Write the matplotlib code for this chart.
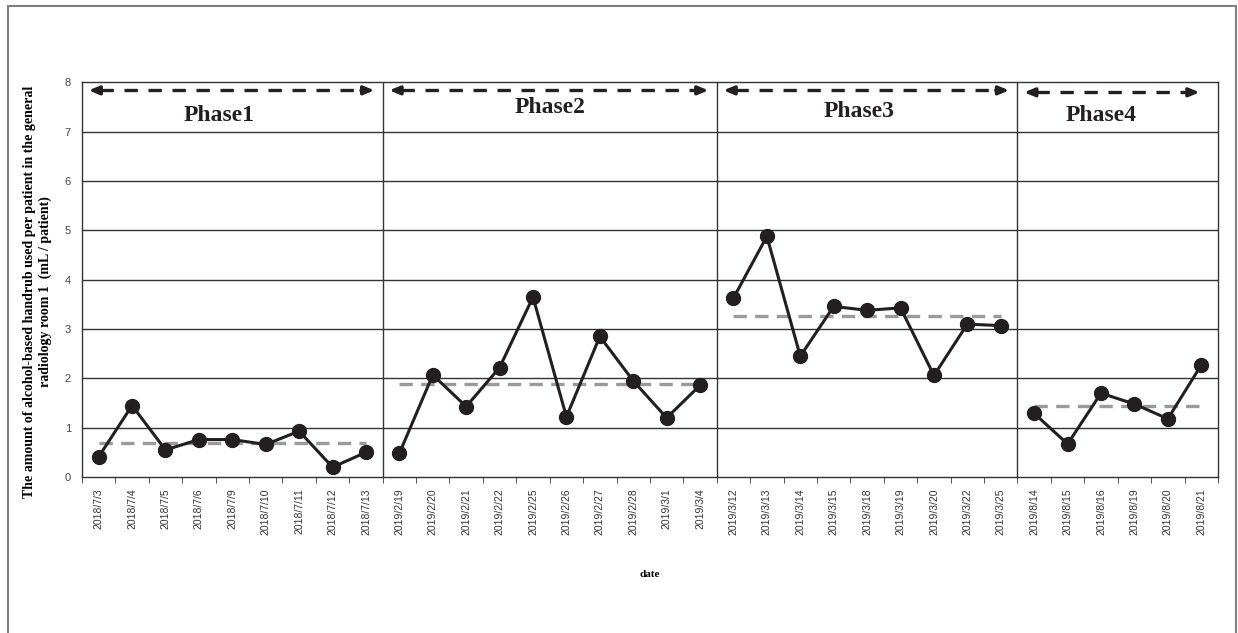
import matplotlib
matplotlib.use("Agg")
import matplotlib.pyplot as plt
import numpy as np
from matplotlib.patches import Rectangle

# dates per phase
phase1_dates = ["2018/7/3", "2018/7/4", "2018/7/5", "2018/7/6", "2018/7/9",
                "2018/7/10", "2018/7/11", "2018/7/12", "2018/7/13"]
phase2_dates = ["2019/2/19", "2019/2/20", "2019/2/21", "2019/2/22", "2019/2/25",
                "2019/2/26", "2019/2/27", "2019/2/28", "2019/3/1", "2019/3/4"]
phase3_dates = ["2019/3/12", "2019/3/13", "2019/3/14", "2019/3/15", "2019/3/18",
                "2019/3/19", "2019/3/20", "2019/3/22", "2019/3/25"]
phase4_dates = ["2019/8/14", "2019/8/15", "2019/8/16", "2019/8/19", "2019/8/20",
                "2019/8/21"]

# mL / patient
phase1_vals = [0.41, 1.45, 0.55, 0.76, 0.76, 0.66, 0.93, 0.20, 0.50]
phase2_vals = [0.48, 2.07, 1.43, 2.22, 3.65, 1.22, 2.85, 1.95, 1.20, 1.86]
phase3_vals = [3.63, 4.88, 2.45, 3.46, 3.38, 3.43, 2.06, 3.10, 3.07]
phase4_vals = [1.29, 0.67, 1.70, 1.48, 1.18, 2.27]

phase_means = [0.70, 1.89, 3.26, 1.44]
phase_names = ["Phase1", "Phase2", "Phase3", "Phase4"]

all_dates = [phase1_dates, phase2_dates, phase3_dates, phase4_dates]
all_vals = [phase1_vals, phase2_vals, phase3_vals, phase4_vals]

fig = plt.figure(figsize=(12.38, 6.33), dpi=100)
ax = fig.add_axes([0.0662, 0.2464, 0.9176, 0.6233])

serif = "Liberation Serif"
sans = "Liberation Sans"

# gridlines
for g in range(1, 8):
    ax.axhline(g, color="#333333", lw=1.0, zorder=1)

labels = []
start = 0
for i, (d, v) in enumerate(zip(all_dates, all_vals)):
    xs = np.arange(start, start + len(d))
    labels += d
    left, right = start - 0.5, start + len(d) - 0.5
    if i > 0:
        ax.axvline(left, color="#333333", lw=1.0, zorder=1)
    # mean line
    ax.plot([xs[0], xs[-1]], [phase_means[i]] * 2, color="#9a9a9a", lw=2.4,
            dashes=(4, 2.5), zorder=2)
    # data
    ax.plot(xs, v, color="#231f20", lw=2.2, marker="o", ms=10, zorder=3)
    # arrow spanning the phase
    a0 = left + 0.2
    a1 = right - 0.25 if i < 3 else right - 0.55
    ay = 7.84 if i < 3 else 7.8
    ax.plot([a0 + 0.35, a1 - 0.35], [ay, ay], color="#231f20", lw=2.4,
            dashes=(4, 3.2), zorder=3)
    for tip, tail in ((a0, a0 + 0.4), (a1, a1 - 0.4)):
        ax.annotate("", xy=(tip, ay), xytext=(tail, ay),
                    arrowprops=dict(arrowstyle="-|>,head_length=0.6,head_width=0.25",
                                    color="#231f20", lw=2.4, shrinkA=0, shrinkB=0))
    ty = [7.33, 7.49, 7.42, 7.33][i]
    tx = [(left + right) / 2 - 0.4, (left + right) / 2, (left + right) / 2 - 0.25,
          (left + right) / 2 - 0.5][i]
    ax.text(tx, ty, phase_names[i], ha="center", va="center", fontsize=17,
            fontweight="bold", family=serif, color="#231f20")
    start += len(d)

n = len(labels)
ax.set_xlim(-0.5, n - 0.5)
ax.set_ylim(0, 8)
ax.set_yticks(range(0, 9))
ax.tick_params(axis="y", length=0, labelsize=8, labelcolor="#444444", pad=8)
for t in ax.get_yticklabels():
    t.set_family(sans)

ax.set_xticks(np.arange(n))
ax.set_xticklabels(labels, rotation=90, fontsize=7.5, family=sans, color="#333333")
ax.tick_params(axis="x", which="major", length=0, pad=8)
ax.set_xticks(np.arange(-0.5, n, 1), minor=True)
ax.tick_params(axis="x", which="minor", length=4, direction="out", color="#333333")

for s in ax.spines.values():
    s.set_color("#333333")
    s.set_linewidth(1.0)

ax.set_ylabel("The amount of alcohol-based handrub used per patient in the general\n"
              "radiology room 1  (mL / patient)",
              fontsize=10, fontweight="bold", family=serif, linespacing=1.3)
ax.yaxis.set_label_coords(-0.026, 0.47)
fig.text(0.525, 0.092, "date", ha="center", va="center", fontsize=8,
         fontweight="bold", family=serif)

# outer frame
fig.patches.append(Rectangle((8 / 1238, -0.05), 1228 / 1238, 0.05 + 627 / 633,
                             transform=fig.transFigure, fill=False,
                             edgecolor="#808080", lw=1.5))

fig.savefig("out.png", dpi=100)
